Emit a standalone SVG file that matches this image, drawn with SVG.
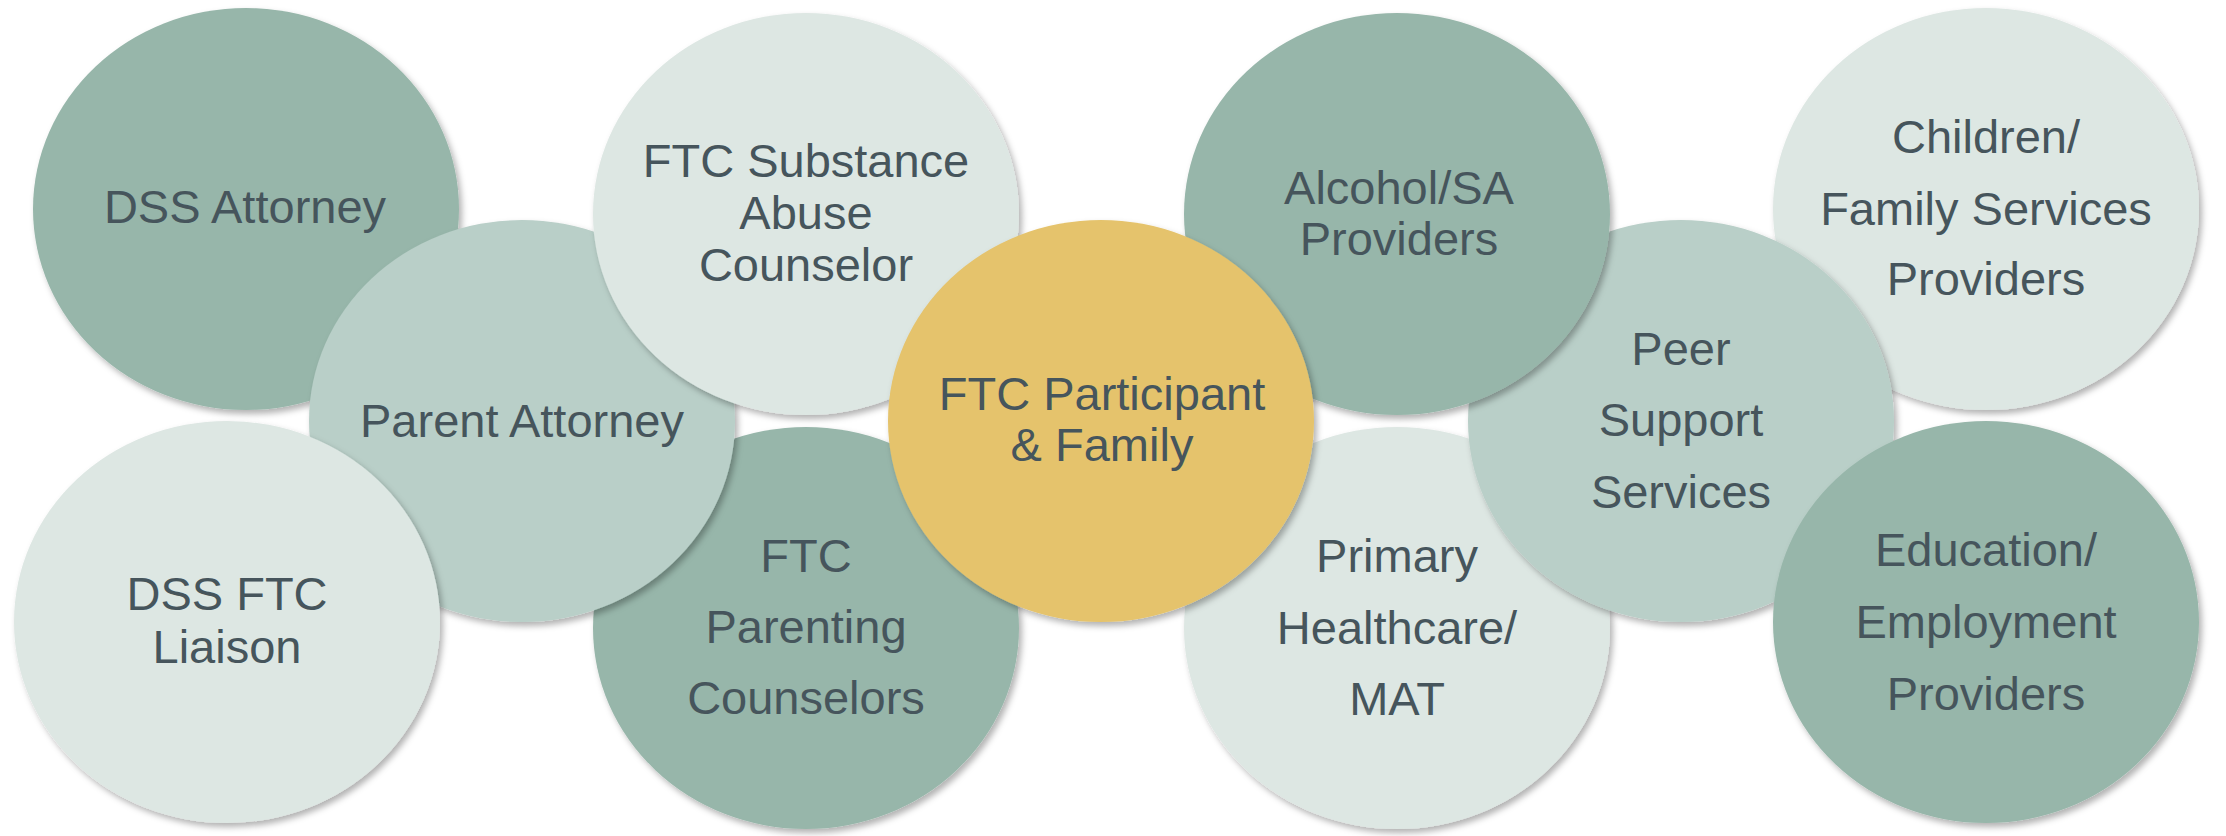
<svg xmlns="http://www.w3.org/2000/svg" width="2226" height="836" viewBox="0 0 2226 836">
<defs>
<filter id="sh" x="-10%" y="-10%" width="125%" height="125%">
<feDropShadow dx="3" dy="4" stdDeviation="3" flood-color="#000" flood-opacity="0.3"/>
</filter>
<style>
.n{filter:url(#sh)}
.dark{fill:#97B6AA}
.mid{fill:#B9CFC8}
.light{fill:#DDE7E3}
.gold{fill:#E5C36C}
text{font-family:"Liberation Sans",Arial,sans-serif;font-size:47px;fill:#46555C;text-anchor:middle}
</style>
</defs>
<rect width="2226" height="836" fill="#fff"/>
<g id="connectors"></g>
<g id="dss-attorney"><ellipse class="n dark" cx="246" cy="209" rx="213" ry="201"/><text x="245" y="223">DSS Attorney</text></g>
<g id="ftc-parenting"><ellipse class="n dark" cx="806" cy="628" rx="213" ry="201"/><text x="806" y="572">FTC</text><text x="806" y="643">Parenting</text><text x="806" y="714">Counselors</text></g>
<g id="parent-attorney"><ellipse class="n mid" cx="522" cy="421" rx="213" ry="201"/><text x="522" y="437">Parent Attorney</text></g>
<g id="dss-ftc-liaison"><ellipse class="n light" cx="227" cy="622" rx="213" ry="201"/><text x="227" y="610">DSS FTC</text><text x="227" y="663">Liaison</text></g>
<g id="ftc-substance"><ellipse class="n light" cx="806" cy="214" rx="213" ry="201"/><text x="806" y="177">FTC Substance</text><text x="806" y="229">Abuse</text><text x="806" y="281">Counselor</text></g>
<g id="primary-healthcare"><ellipse class="n light" cx="1397" cy="628" rx="213" ry="201"/><text x="1397" y="572">Primary</text><text x="1397" y="644">Healthcare/</text><text x="1397" y="715">MAT</text></g>
<g id="children-family"><ellipse class="n light" cx="1986" cy="209" rx="213" ry="201"/><text x="1986" y="153">Children/</text><text x="1986" y="225">Family Services</text><text x="1986" y="295">Providers</text></g>
<g id="peer-support"><ellipse class="n mid" cx="1681" cy="421" rx="213" ry="201"/><text x="1681" y="365">Peer</text><text x="1681" y="436">Support</text><text x="1681" y="508">Services</text></g>
<g id="alcohol-sa"><ellipse class="n dark" cx="1397" cy="214" rx="213" ry="201"/><text x="1399" y="204">Alcohol/SA</text><text x="1399" y="255">Providers</text></g>
<g id="education-employment"><ellipse class="n dark" cx="1986" cy="622" rx="213" ry="201"/><text x="1986" y="566">Education/</text><text x="1986" y="638">Employment</text><text x="1986" y="710">Providers</text></g>
<g id="ftc-participant"><ellipse class="n gold" cx="1101" cy="421" rx="213" ry="201"/><text x="1102" y="410">FTC Participant</text><text x="1102" y="461">&amp; Family</text></g>
</svg>
